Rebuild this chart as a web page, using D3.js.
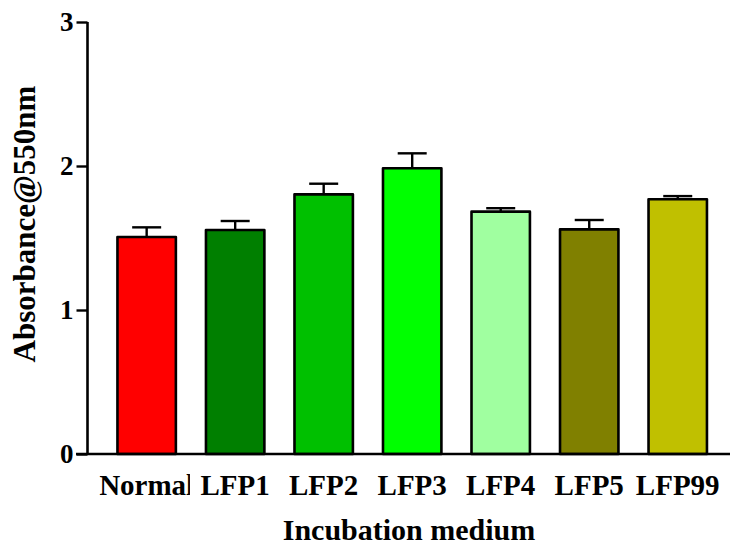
<!DOCTYPE html>
<html><head><meta charset="utf-8">
<script src="https://cdn.jsdelivr.net/npm/d3@7"></script>
<style>body{margin:0;background:#fff}svg{display:block}</style>
</head><body>
<script>
const categories = ["Normal","LFP1","LFP2","LFP3","LFP4","LFP5","LFP99"];
const values = [1.507,1.556,1.803,1.984,1.683,1.560,1.769];
const errors = [0.067,0.062,0.074,0.104,0.024,0.065,0.022];
const colors = ["#ff0000","#007f00","#00c000","#00ff00","#a0ffa0","#808000","#c0c000"];
const yTicks = [0,1,2,3];

const W=730,H=545;
const svg=d3.select("body").append("svg").attr("width",W).attr("height",H);
const font="'Liberation Serif','Times New Roman',serif";
const y=d3.scaleLinear().domain([0,3]).range([454,22]);
const x=d3.scaleBand().domain(categories).range([102.4,722]).paddingInner(0.34).paddingOuter(0.17);

// clip paths for labels
const defs=svg.append("defs");
categories.forEach((c,i)=>{
  defs.append("clipPath").attr("id","clip"+i).append("rect")
    .attr("x",x(c)-x.step()*x.paddingInner()/2-3).attr("y",460).attr("width",x.step()+2).attr("height",50);
});

// bars
svg.selectAll("rect.bar").data(categories).join("rect").attr("class","bar")
  .attr("x",d=>x(d)).attr("width",x.bandwidth())
  .attr("y",(d,i)=>y(values[i])).attr("height",(d,i)=>y(0)-y(values[i]))
  .attr("fill",(d,i)=>colors[i]).attr("stroke","#000").attr("stroke-width",2.6).attr("stroke-linejoin","round");

// error bars
const eb=svg.append("g").attr("stroke","#000").attr("stroke-width",2.4);
categories.forEach((c,i)=>{
  const cx=x(c)+x.bandwidth()/2;
  eb.append("line").attr("x1",cx).attr("x2",cx).attr("y1",y(values[i])).attr("y2",y(values[i]+errors[i]));
  eb.append("line").attr("x1",cx-14.5).attr("x2",cx+14.5).attr("y1",y(values[i]+errors[i])).attr("y2",y(values[i]+errors[i]));
});

// y axis
const yAxis=d3.axisLeft(y).tickValues(yTicks).tickFormat(d3.format("d")).tickSize(11).tickPadding(3);
const gy=svg.append("g").attr("transform","translate(87.5,0)").call(yAxis);
gy.select(".domain").attr("stroke-width",2.6).attr("d","M0,"+y(3)+"V"+y(0));
gy.selectAll(".tick line").attr("stroke-width",2.4);
gy.selectAll(".tick text").attr("font-family",font).attr("font-weight","bold").attr("font-size",27).attr("fill","#000");

// x axis line
svg.append("line").attr("x1",76).attr("x2",730).attr("y1",y(0)).attr("y2",y(0)).attr("stroke","#000").attr("stroke-width",2.6);

// x labels
categories.forEach((c,i)=>{
  svg.append("text").attr("x",x(c)+x.bandwidth()/2).attr("y",495).attr("text-anchor","middle")
    .attr("clip-path","url(#clip"+i+")")
    .attr("font-family",font).attr("font-weight","bold").attr("font-size",29).text(c);
});

// titles
svg.append("text").attr("x",409).attr("y",540).attr("text-anchor","middle")
  .attr("font-family",font).attr("font-weight","bold").attr("font-size",30).text("Incubation medium");
svg.append("text").attr("transform","translate(35,224) rotate(-90)").attr("text-anchor","middle")
  .attr("font-family",font).attr("font-weight","bold").attr("font-size",31).text("Absorbance@550nm");
</script>
</body></html>
